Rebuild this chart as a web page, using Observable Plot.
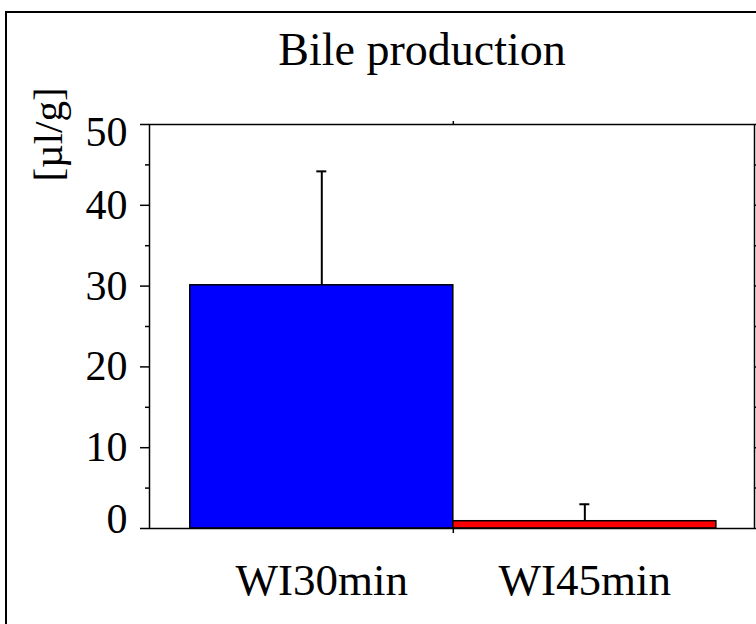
<!DOCTYPE html>
<html>
<head>
<meta charset="utf-8">
<script src="https://cdn.jsdelivr.net/npm/d3@7"></script>
<script src="https://cdn.jsdelivr.net/npm/@observablehq/plot@0.6"></script>
<style>
  html, body { margin: 0; padding: 0; background: white; overflow: hidden; width: 756px; height: 624px; }
  #wrap { position: relative; width: 756px; height: 624px; overflow: hidden; }
  #chart { position: absolute; left: 0; top: 0; }
  #title { position: absolute; left: 422px; top: 27px; transform: translateX(-50%); white-space: nowrap;
           font-family: "Liberation Serif", serif; font-size: 46px; line-height: 46px; color: black; }
  #border { position: absolute; left: 5px; top: 11px; width: 800px; height: 700px; border: 2px solid black; pointer-events: none; }
</style>
</head>
<body>
<div id="wrap">
  <div id="chart"></div>
  <div id="title">Bile production</div>
  <div id="border"></div>
</div>
<script>
const categories = ["WI30min", "WI45min"];
const means = [30.1, 0.9];
const errors = [14.1, 2.1];
const colors = ["#0000ff", "#ff0000"];
const yTicks = [0, 10, 20, 30, 40, 50];
const yMinorTicks = [5, 15, 25, 35, 45];
const yLabel = "[µl/g]";

const rows = categories.map((c, i) => ({cat: c, i, mean: means[i], err: errors[i]}));
const capHalf = 0.019;
const allTicks = yTicks.concat(yMinorTicks);
const none = () => "";

const chart = Plot.plot({
  width: 756,
  height: 624,
  marginTop: 124,
  marginRight: 2,
  marginBottom: 96,
  marginLeft: 149,
  style: {fontFamily: "'Liberation Serif', serif", fontSize: "42px", background: "transparent", color: "black"},
  x: {domain: [-0.655, 1.645], axis: null, label: null},
  y: {domain: [0, 50], axis: null, label: null},
  color: {domain: categories, range: colors},
  marks: [
    Plot.rectY(rows, {x1: d => d.i - 0.5, x2: d => d.i + 0.5, y1: 0, y2: "mean", fill: "cat", stroke: "black", strokeWidth: 1.5}),
    Plot.ruleX(rows, {x: "i", y1: "mean", y2: d => d.mean + d.err, stroke: "black", strokeWidth: 2}),
    Plot.ruleY(rows, {y: d => d.mean + d.err, x1: d => d.i - capHalf, x2: d => d.i + capHalf, stroke: "black", strokeWidth: 2}),
    Plot.frame({stroke: "black", strokeWidth: 1.5}),
    // left axis ticks
    Plot.axisY({anchor: "left", label: null, ticks: yTicks, tickSize: 9, tickFormat: none, strokeWidth: 1.5}),
    Plot.axisY({anchor: "left", label: null, ticks: yMinorTicks, tickSize: 4, tickFormat: none, strokeWidth: 1.5}),
    // left axis labels
    Plot.axisY({anchor: "left", label: null, ticks: [10, 20, 30, 40], tickSize: 0, tickPadding: 22, fontSize: 42}),
    Plot.axisY({anchor: "left", label: null, ticks: [50], tickSize: 0, tickPadding: 22, fontSize: 42, dy: 8}),
    Plot.axisY({anchor: "left", label: null, ticks: [0], tickSize: 0, tickPadding: 22, fontSize: 42, dy: -9}),
    // right axis ticks
    Plot.axisY({anchor: "right", label: null, ticks: allTicks, tickSize: 8, tickFormat: none, strokeWidth: 1.5}),
    // category boundary ticks
    Plot.axisX({anchor: "top", label: null, ticks: [0.5], tickSize: 4, tickFormat: none, strokeWidth: 1.5}),
    Plot.axisX({anchor: "bottom", label: null, ticks: [0.5], tickSize: 5, tickFormat: none, strokeWidth: 1.5}),
    // category labels
    Plot.axisX({anchor: "bottom", label: null, ticks: [0, 1], tickSize: 0, tickPadding: 35, tickFormat: i => categories[i], fontSize: 45}),
    // y label
    Plot.text([yLabel], {text: d => d, frameAnchor: "top-left", rotate: -90, dx: -101, dy: 10, fontSize: 41, textAnchor: "middle", lineAnchor: "middle", fill: "black"})
  ]
});
document.getElementById("chart").appendChild(chart);
</script>
</body>
</html>
